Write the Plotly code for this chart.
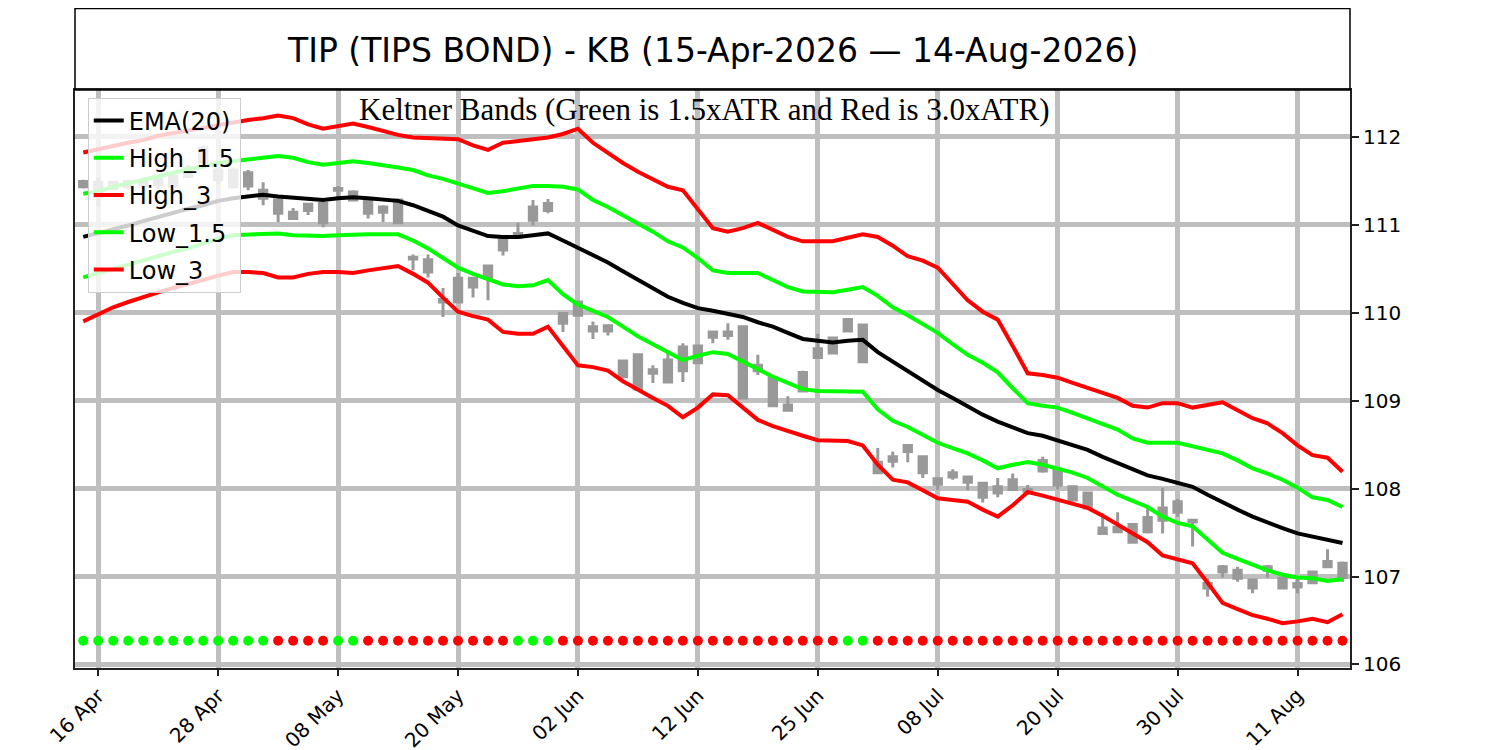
import pandas as pd
import plotly.graph_objects as go

# trading days shown (US holidays skipped)
holidays = ['2026-05-25', '2026-06-19', '2026-07-03']
days = pd.bdate_range('2026-04-15', '2026-08-14')
days = days[~days.isin(pd.to_datetime(holidays))]
dates = [d.strftime('%Y-%m-%d') for d in days]

tick_dates = ['2026-04-16', '2026-04-28', '2026-05-08', '2026-05-20', '2026-06-02', '2026-06-12',
              '2026-06-25', '2026-07-08', '2026-07-20', '2026-07-30', '2026-08-11']
tick_labels = ['16 Apr', '28 Apr', '08 May', '20 May', '02 Jun', '12 Jun',
               '25 Jun', '08 Jul', '20 Jul', '30 Jul', '11 Aug']

### OHLC ###
high = [111.51, 111.53, 111.49, 111.51, 111.53, 111.56, 111.60, 111.68, 111.90, 111.66,
        111.64, 111.62, 111.48, 111.30, 111.19, 111.24, 111.26, 111.44, 111.39, 111.29,
        111.22, 111.28, 110.66, 110.66, 110.28, 110.45, 110.39, 110.54, 110.86, 111.02,
        111.28, 111.29, 109.99, 110.12, 109.90, 109.86, 109.46, 109.52, 109.40, 109.55,
        109.65, 109.63, 109.78, 109.88, 109.84, 109.52, 109.27, 109.05, 109.34, 109.76,
        109.72, 109.92, 109.86, 108.46, 108.42, 108.49, 108.36, 108.11, 108.22, 108.13,
        108.06, 108.12, 108.17, 108.04, 108.36, 108.21, 108.02, 107.95, 107.72, 107.73,
        107.59, 107.79, 108.01, 107.88, 107.64, 106.98, 107.13, 107.11, 106.96, 107.13,
        106.98, 106.99, 107.05, 107.31, 107.17]
open_ = [111.49, 111.48, 111.48, 111.43, 111.44, 111.45, 111.44, 111.55, 111.71, 111.51,
         111.43, 111.44, 111.39, 111.28, 111.14, 111.16, 111.24, 111.39, 111.37, 111.28,
         111.14, 111.28, 110.61, 110.60, 110.15, 110.39, 110.29, 110.53, 110.71, 110.86,
         111.05, 111.24, 109.99, 110.12, 109.79, 109.85, 109.45, 109.52, 109.31, 109.46,
         109.34, 109.62, 109.72, 109.74, 109.84, 109.40, 109.26, 108.95, 109.11, 109.49,
         109.54, 109.79, 109.86, 108.30, 108.31, 108.49, 108.36, 108.11, 108.13, 108.13,
         108.06, 107.95, 108.10, 107.99, 108.20, 108.21, 108.02, 107.95, 107.55, 107.51,
         107.59, 107.51, 107.64, 107.73, 107.64, 106.87, 107.05, 106.98, 106.96, 107.07,
         106.98, 106.88, 107.05, 107.11, 106.99]
close = [111.43, 111.32, 111.41, 111.49, 111.49, 111.52, 111.55, 111.64, 111.87, 111.62,
         111.62, 111.59, 111.30, 111.13, 111.07, 111.23, 111.02, 111.41, 111.28, 111.13,
         111.20, 111.02, 110.63, 110.46, 110.12, 110.12, 110.39, 110.40, 110.85, 110.90,
         111.20, 111.16, 109.88, 109.97, 109.84, 109.79, 109.27, 109.13, 109.35, 109.21,
         109.61, 109.43, 109.78, 109.78, 109.03, 109.34, 108.94, 108.89, 109.32, 109.59,
         109.71, 109.92, 109.44, 108.18, 108.36, 108.42, 108.18, 108.05, 108.18, 108.07,
         107.90, 108.02, 107.99, 107.97, 108.32, 108.04, 107.87, 107.78, 107.49, 107.56,
         107.39, 107.67, 107.78, 107.85, 107.62, 106.92, 107.11, 107.07, 106.87, 107.11,
         106.87, 106.92, 106.93, 107.17, 107.15]
low = [111.41, 111.20, 111.39, 111.40, 111.39, 111.40, 111.39, 111.53, 111.69, 111.46,
       111.41, 111.39, 111.22, 111.03, 111.06, 111.11, 110.97, 111.32, 111.28, 111.07,
       111.03, 111.02, 110.48, 110.40, 109.95, 110.12, 110.17, 110.14, 110.65, 110.85,
       110.99, 111.13, 109.78, 109.97, 109.70, 109.74, 109.26, 109.13, 109.20, 109.21,
       109.21, 109.43, 109.65, 109.69, 109.03, 109.29, 108.94, 108.89, 109.11, 109.49,
       109.54, 109.79, 109.44, 108.18, 108.24, 108.30, 108.12, 107.98, 108.10, 107.98,
       107.84, 107.90, 107.99, 107.93, 108.18, 107.99, 107.85, 107.78, 107.49, 107.51,
       107.39, 107.49, 107.49, 107.68, 107.34, 106.77, 106.99, 106.94, 106.81, 106.99,
       106.87, 106.81, 106.93, 107.11, 106.94]

### Keltner bands ###
ema20 = [110.86, 110.90, 110.95, 110.99, 111.04, 111.09, 111.13, 111.18, 111.22, 111.27,
         111.30, 111.32, 111.34, 111.32, 111.31, 111.29, 111.28, 111.30, 111.31, 111.30,
         111.29, 111.27, 111.22, 111.16, 111.09, 110.99, 110.93, 110.87, 110.86, 110.86,
         110.88, 110.90, 110.82, 110.74, 110.66, 110.57, 110.47, 110.37, 110.27, 110.18,
         110.11, 110.05, 110.02, 109.99, 109.95, 109.89, 109.84, 109.77, 109.70, 109.68,
         109.66, 109.68, 109.69, 109.55, 109.44, 109.34, 109.23, 109.12, 109.03, 108.93,
         108.84, 108.76, 108.69, 108.63, 108.60, 108.55, 108.49, 108.44, 108.36, 108.29,
         108.22, 108.15, 108.11, 108.07, 108.02, 107.93, 107.84, 107.76, 107.68, 107.61,
         107.55, 107.49, 107.45, 107.42, 107.38]
high_15 = [111.35, 111.38, 111.43, 111.47, 111.51, 111.55, 111.60, 111.63, 111.66, 111.70,
           111.72, 111.74, 111.77, 111.78, 111.76, 111.71, 111.68, 111.70, 111.72, 111.70,
           111.68, 111.65, 111.62, 111.56, 111.52, 111.47, 111.41, 111.36, 111.38, 111.41,
           111.44, 111.44, 111.43, 111.40, 111.28, 111.20, 111.11, 111.02, 110.92, 110.81,
           110.74, 110.62, 110.48, 110.45, 110.45, 110.45, 110.37, 110.29, 110.24, 110.23,
           110.23, 110.26, 110.29, 110.19, 110.06, 109.97, 109.87, 109.77, 109.64, 109.52,
           109.43, 109.32, 109.14, 108.97, 108.94, 108.92, 108.86, 108.80, 108.73, 108.67,
           108.57, 108.52, 108.52, 108.52, 108.48, 108.44, 108.40, 108.32, 108.23, 108.17,
           108.10, 108.01, 107.90, 107.87, 107.79]
high_3 = [111.82, 111.86, 111.89, 111.93, 111.96, 112.01, 112.04, 112.07, 112.11, 112.14,
          112.16, 112.19, 112.21, 112.24, 112.21, 112.14, 112.09, 112.12, 112.15, 112.11,
          112.06, 112.02, 111.99, 111.98, 111.98, 111.97, 111.90, 111.85, 111.93, 111.95,
          111.97, 111.99, 112.03, 112.09, 111.93, 111.81, 111.70, 111.60, 111.51, 111.43,
          111.39, 111.18, 110.96, 110.92, 110.96, 111.02, 110.94, 110.86, 110.81, 110.81,
          110.81, 110.85, 110.89, 110.86, 110.76, 110.64, 110.59, 110.51, 110.32, 110.14,
          110.01, 109.92, 109.62, 109.31, 109.29, 109.26, 109.20, 109.14, 109.09, 109.03,
          108.94, 108.92, 108.97, 108.97, 108.92, 108.95, 108.98, 108.89, 108.80, 108.74,
          108.63, 108.49, 108.38, 108.35, 108.19]
low_15 = [110.40, 110.45, 110.49, 110.55, 110.60, 110.64, 110.69, 110.73, 110.79, 110.84,
          110.88, 110.89, 110.90, 110.90, 110.88, 110.87, 110.87, 110.88, 110.89, 110.89,
          110.89, 110.89, 110.82, 110.73, 110.62, 110.51, 110.44, 110.38, 110.32, 110.30,
          110.31, 110.37, 110.21, 110.09, 110.02, 109.95, 109.84, 109.73, 109.64, 109.55,
          109.46, 109.51, 109.55, 109.53, 109.44, 109.35, 109.27, 109.20, 109.13, 109.11,
          109.11, 109.11, 109.10, 108.90, 108.77, 108.70, 108.61, 108.52, 108.46, 108.40,
          108.32, 108.23, 108.27, 108.30, 108.27, 108.23, 108.18, 108.12, 108.02, 107.93,
          107.86, 107.79, 107.68, 107.61, 107.57, 107.42, 107.27, 107.20, 107.13, 107.07,
          107.02, 106.99, 106.98, 106.95, 106.97]
low_3 = [109.90, 109.98, 110.06, 110.12, 110.18, 110.23, 110.28, 110.32, 110.37, 110.42,
         110.46, 110.46, 110.45, 110.40, 110.40, 110.44, 110.46, 110.46, 110.45, 110.48,
         110.51, 110.53, 110.44, 110.34, 110.17, 110.01, 109.96, 109.92, 109.78, 109.76,
         109.76, 109.84, 109.62, 109.40, 109.38, 109.34, 109.22, 109.12, 109.03, 108.94,
         108.81, 108.92, 109.07, 109.06, 108.92, 108.78, 108.71, 108.65, 108.60, 108.55,
         108.55, 108.54, 108.49, 108.27, 108.10, 108.07, 107.98, 107.89, 107.87, 107.85,
         107.76, 107.68, 107.81, 107.96, 107.92, 107.87, 107.82, 107.78, 107.69, 107.59,
         107.49, 107.39, 107.24, 107.19, 107.15, 106.93, 106.70, 106.63, 106.56, 106.52,
         106.47, 106.49, 106.52, 106.48, 106.57]

# signal dots along the bottom (g = green, r = red)
signal = list('ggggggggggggg' 'rrrr' 'gg' 'rrrrrrrrrr' 'ggg' 'rrrrrrrrrrrrrrrrrrr'
              'gg' 'rrrrrrrrrrrrrrrrrrrrrrrrrrrrrrrr')
signal_level = 106.27

title = 'TIP (TIPS BOND) - KB (15-Apr-2026 \u2014 14-Aug-2026)'
subtitle = 'Keltner Bands (Green is 1.5xATR and Red is 3.0xATR)'

GREEN = '#00ff00'
RED = '#ff0000'
CANDLE = '#999999'
GRID = '#bfbfbf'

fig = go.Figure()

bands = [('EMA(20)', ema20, 'black'), ('High_1.5', high_15, GREEN), ('High_3', high_3, RED),
         ('Low_1.5', low_15, GREEN), ('Low_3', low_3, RED)]
for name, vals, col in bands:
    fig.add_trace(go.Scatter(x=dates, y=vals, mode='lines', name=name, legendgroup=name,
                             line=dict(color=col, width=4)))

fig.add_trace(go.Scatter(
    x=dates, y=[signal_level] * len(dates), mode='markers', showlegend=False,
    marker=dict(size=10, color=[GREEN if s == 'g' else RED for s in signal])))

fig.add_trace(go.Candlestick(
    x=dates, open=open_, high=high, low=low, close=close, showlegend=False,
    increasing=dict(line=dict(color=CANDLE, width=3), fillcolor=CANDLE),
    decreasing=dict(line=dict(color=CANDLE, width=3), fillcolor=CANDLE),
    whiskerwidth=0))

# title box above the plot
fig.add_shape(type='rect', xref='paper', yref='paper', x0=0, x1=1, y0=1, y1=1.141,
              line=dict(color='black', width=1.5))
fig.add_annotation(text=title, xref='paper', yref='paper', x=0.5, y=1.069,
                   xanchor='center', yanchor='middle', showarrow=False,
                   font=dict(family='DejaVu Sans', size=33, color='black'))
fig.add_annotation(text=subtitle, xref='paper', yref='paper', x=0.494, y=0.966,
                   xanchor='center', yanchor='middle', showarrow=False,
                   font=dict(family='Liberation Serif', size=31, color='black'))

fig.update_layout(
    width=1500, height=750,
    margin=dict(l=67, r=158, t=82, b=90, autoexpand=False),
    paper_bgcolor='white', plot_bgcolor='white',
    font=dict(family='DejaVu Sans', color='black'),
    showlegend=True,
    legend=dict(x=0.01, y=0.987, xanchor='left', yanchor='top',
                bgcolor='rgba(255,255,255,0.8)', bordercolor='#cccccc', borderwidth=1,
                font=dict(size=24), tracegroupgap=3, itemwidth=30),
    xaxis=dict(type='category', range=[-0.55, 84.5], rangeslider=dict(visible=False),
               automargin=False,
               tickmode='array', tickvals=tick_dates, ticktext=tick_labels, tickangle=-45,
               tickfont=dict(size=20), ticks='outside', ticklen=6, tickwidth=2, tickcolor='#222',
               showgrid=True, gridcolor=GRID, gridwidth=4.5,
               showline=True, linecolor='#222', linewidth=2, mirror=True),
    yaxis=dict(side='right', range=[105.96, 112.53], dtick=1, tickfont=dict(size=20),
               automargin=False,
               ticks='outside', ticklen=7, tickwidth=2, tickcolor='#222',
               showgrid=True, gridcolor=GRID, gridwidth=4.5, zeroline=False,
               showline=True, linecolor='#222', linewidth=2, mirror=True),
)

fig.write_html('out.html')
